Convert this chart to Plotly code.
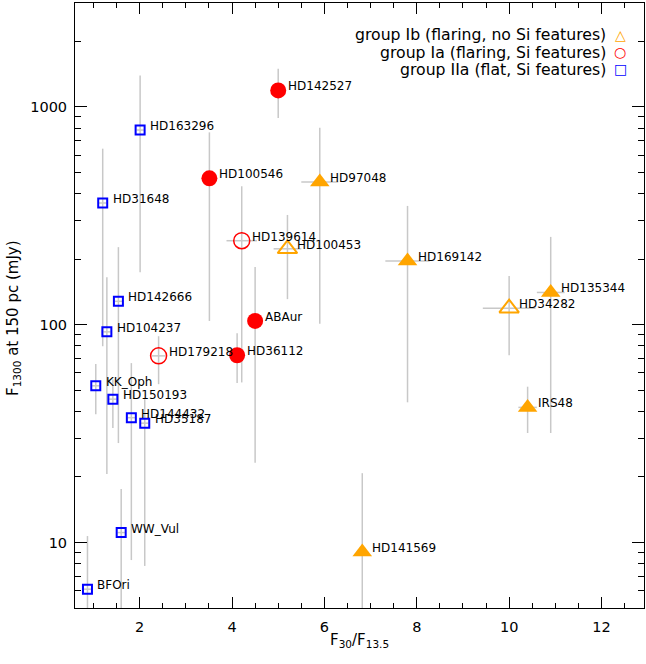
import numpy as np
import plotly.graph_objects as go

# ---------------- data ----------------
# group IIa (flat, Si features) - blue open squares
names_IIa = ["HD163296", "HD31648", "HD142666", "HD104237", "KK_Oph", "HD150193",
             "HD144432", "HD35187", "WW_Vul", "BFOri"]
x_IIa = [2.01, 1.20, 1.54, 1.29, 1.05, 1.42, 1.82, 2.11, 1.60, 0.87]
y_IIa = [783, 362, 128, 92.7, 52.4, 45.5, 37.4, 35.3, 11.1, 6.1]
yhi_IIa = [1394, 643, 227, 165, 65.9, 56, 66.6, 45.5, 17.6, 10.7]
ylo_IIa = [174, 79.6, 28.6, 20.6, 38.8, 33.5, 8.3, 7.8, 3.0, 3.0]
xerr_IIa = [0.08, 0.08, 0.08, 0.08, 0.08, 0.08, 0.08, 0.08, 0.08, 0.08]

# group Ia (flaring, Si features) - red, filled subset
names_Ia_f = ["HD142527", "HD100546", "ABAur", "HD36112"]
x_Ia_f = [5.00, 3.51, 4.50, 4.11]
y_Ia_f = [1190, 470, 104, 72.4]
yhi_Ia_f = [1497, 764, 184, 91.4]
ylo_Ia_f = [889, 104, 23.2, 54]
xerr_Ia_f = [0.1, 0.1, 0.1, 0.1]

# group Ia - red, open subset
names_Ia_o = ["HD139614", "HD179218"]
x_Ia_o = [4.21, 2.41]
y_Ia_o = [243, 71.9]
yhi_Ia_o = [432, 88.5]
ylo_Ia_o = [54.3, 53.3]
xerr_Ia_o = [0.33, 0.15]

# group Ib (flaring, no Si features) - orange, filled subset
names_Ib_f = ["HD97048", "HD169142", "HD135344", "IRS48", "HD141569"]
x_Ib_f = [5.90, 7.80, 10.90, 10.40, 6.82]
y_Ib_f = [452, 196, 140.6, 41.7, 9.04]
yhi_Ib_f = [803, 351, 253, 51.9, 20.8]
ylo_Ib_f = [101, 44, 31.8, 31.8, 3.0]
xerr_Ib_f = [0.40, 0.48, 0.30, 0.20, 0.10]

# group Ib - orange, open subset
names_Ib_o = ["HD100453", "HD34282"]
x_Ib_o = [5.20, 10.00]
y_Ib_o = [223, 119]
yhi_Ib_o = [319, 167.5]
ylo_Ib_o = [131, 72.4]
xerr_Ib_o = [0.30, 0.57]

x_ticks = [2, 4, 6, 8, 10, 12]
y_ticks = [10, 100, 1000]
y_tick_text = ["10", "100", "1000"]
y_minor = [5, 6, 7, 8, 9, 20, 30, 40, 50, 60, 70, 80, 90,
           200, 300, 400, 500, 600, 700, 800, 900, 2000, 3000]

legend_rows = [
    ("group Ib (flaring, no Si features)", "\u25B3", "orange"),
    ("group Ia (flaring, Si features)", "\u25CB", "red"),
    ("group IIa (flat, Si features)", "\u25A1", "blue"),
]

FONT = "DejaVu Sans, Liberation Sans, Arial"
ERRC = "#c8c8c8"

# plot area in pixels
L, R, T, B = 75, 644, 3, 608
W, H = 646, 664

groups = [
    (names_IIa, x_IIa, y_IIa, yhi_IIa, ylo_IIa, xerr_IIa,
     dict(symbol="square-open", size=9, color="blue", line=dict(width=2, color="blue"))),
    (names_Ia_f, x_Ia_f, y_Ia_f, yhi_Ia_f, ylo_Ia_f, xerr_Ia_f,
     dict(symbol="circle", size=16, color="red", line=dict(width=0))),
    (names_Ia_o, x_Ia_o, y_Ia_o, yhi_Ia_o, ylo_Ia_o, xerr_Ia_o,
     dict(symbol="circle-open", size=16, color="red", line=dict(width=1.5, color="red"))),
    (names_Ib_f, x_Ib_f, y_Ib_f, yhi_Ib_f, ylo_Ib_f, xerr_Ib_f,
     dict(symbol="triangle-up", size=17, color="orange", line=dict(width=0))),
    (names_Ib_o, x_Ib_o, y_Ib_o, yhi_Ib_o, ylo_Ib_o, xerr_Ib_o,
     dict(symbol="triangle-up-open", size=17, color="orange", line=dict(width=2, color="orange"))),
]

fig = go.Figure()

# error bars first (beneath all markers)
for names, xs, ys, yhi, ylo, xe, mk in groups:
    ys_a = np.array(ys, dtype=float)
    fig.add_trace(go.Scatter(
        x=xs, y=ys, mode="markers",
        marker=dict(size=1, color="rgba(0,0,0,0)"),
        error_y=dict(type="data", symmetric=False,
                     array=np.array(yhi) - ys_a, arrayminus=ys_a - np.array(ylo),
                     color=ERRC, thickness=1.5, width=0),
        error_x=dict(type="data", array=xe, color=ERRC, thickness=1.5, width=0),
        showlegend=False, hoverinfo="skip"))

# markers
for names, xs, ys, yhi, ylo, xe, mk in groups:
    fig.add_trace(go.Scatter(x=xs, y=ys, mode="markers", marker=mk,
                             text=names, showlegend=False))

# point labels
annotations = []
for names, xs, ys, yhi, ylo, xe, mk in groups:
    for n, xv, yv in zip(names, xs, ys):
        annotations.append(dict(x=xv, y=np.log10(yv), xref="x", yref="y", text=n,
                                showarrow=False, xanchor="left", yanchor="middle",
                                xshift=8, yshift=4,
                                font=dict(family=FONT, size=12, color="black")))

# legend (text right aligned, symbol on the right)
leg_y = [34.7, 52.3, 69.3]
for (txt, sym, col), py in zip(legend_rows, leg_y):
    yp = 1 - (py - T) / (B - T)
    annotations.append(dict(x=(608 - L) / (R - L), xref="paper", y=yp, yref="paper", text=txt,
                            showarrow=False, xanchor="right", yanchor="middle",
                            font=dict(family=FONT, size=15.7, color="black")))
    annotations.append(dict(x=(620 - L) / (R - L), xref="paper", y=yp, yref="paper", text=sym,
                            showarrow=False, xanchor="center", yanchor="middle",
                            font=dict(family=FONT, size=14, color=col)))

# axis titles
annotations.append(dict(x=(13 - L) / (R - L), xref="paper", y=1 - (318 - T) / (B - T), yref="paper",
                        text="F<sub>1300</sub> at 150 pc (mJy)", textangle=-90,
                        showarrow=False, xanchor="center", yanchor="middle",
                        font=dict(family=FONT, size=15, color="black")))
annotations.append(dict(x=0.5, xref="paper", y=-(640 - B) / (B - T), yref="paper",
                        text="F<sub>30</sub>/F<sub>13.5</sub>",
                        showarrow=False, xanchor="center", yanchor="middle",
                        font=dict(family=FONT, size=15, color="black")))

fig.update_layout(
    width=W, height=H,
    margin=dict(l=L, r=W - R, t=T, b=H - B, autoexpand=False),
    paper_bgcolor="white", plot_bgcolor="white",
    font=dict(family=FONT, size=14.5, color="black"),
    annotations=annotations,
    showlegend=False,
)

fig.update_xaxes(
    range=[0.6, 12.92], tickvals=x_ticks, ticktext=[str(v) for v in x_ticks],
    ticks="inside", ticklen=11, tickwidth=1, tickcolor="black",
    minor=dict(dtick=0.5, tick0=0, ticks="inside", ticklen=5, tickcolor="black"),
    showline=True, linecolor="black", linewidth=1, mirror="ticks",
    showgrid=False, zeroline=False, automargin=False,
    tickfont=dict(family=FONT, size=14.5),
    ticklabelstandoff=6,
)
fig.update_yaxes(
    type="log", range=[np.log10(5), np.log10(3000)],
    tickvals=y_ticks, ticktext=y_tick_text,
    ticks="inside", ticklen=12, tickwidth=1, tickcolor="black",
    minor=dict(tickvals=y_minor, ticks="inside", ticklen=6, tickcolor="black"),
    showline=True, linecolor="black", linewidth=1, mirror="ticks",
    showgrid=False, zeroline=False, automargin=False,
    tickfont=dict(family=FONT, size=14.5),
    ticklabelstandoff=4,
)

fig.write_html("out.html", config={"displayModeBar": False},
               post_script="document.body.style.margin='0';document.body.style.overflow='hidden';")
